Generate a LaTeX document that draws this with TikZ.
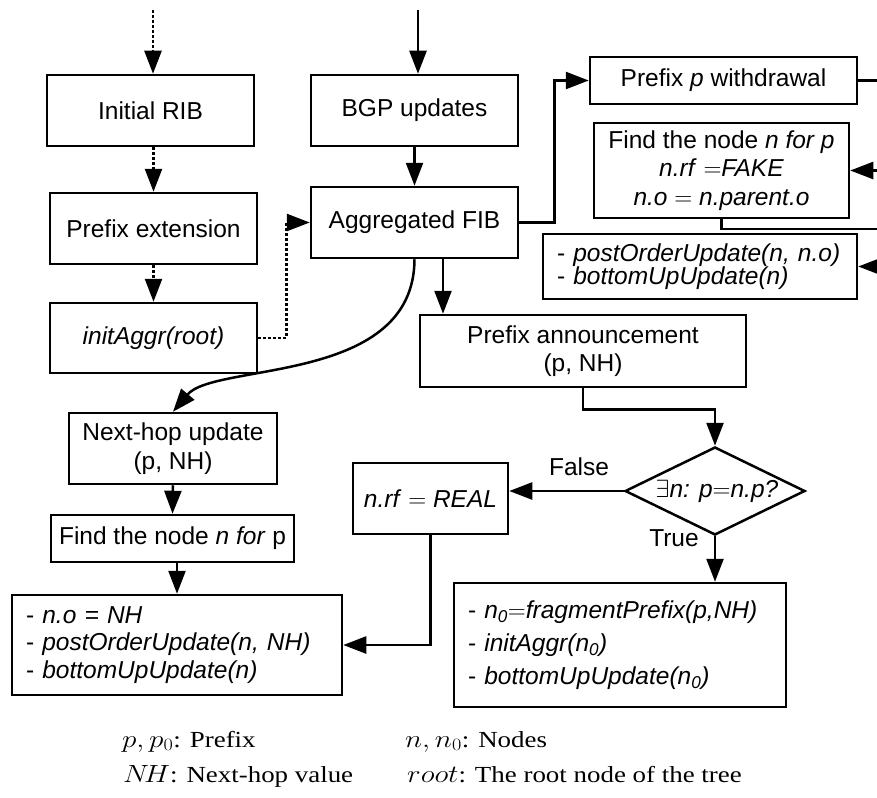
\documentclass[tikz,border=0pt]{standalone}
\usepackage{fontspec}
\setmainfont{Liberation Serif}
\newfontfamily\boxfont{Liberation Sans}
\usetikzlibrary{arrows.meta,shapes.geometric,calc}

\tikzset{
  box/.style={draw, line width=2.5pt, inner sep=0pt, align=center,
    font=\boxfont\fontsize{24.5}{28.5}\selectfont},
  listbox/.style={box, align=left, inner xsep=14pt},
  flow/.style={line width=2.5pt, -{Triangle[length=23pt,width=17pt]}},
  plain/.style={line width=2.5pt},
  dots/.style={flow, dash pattern=on 3pt off 2pt},
  lbl/.style={font=\boxfont\fontsize{24.5}{28.5}\selectfont, inner sep=0pt},
  legend/.style={anchor=base west, inner sep=0pt,
    font=\fontsize{23}{27}\selectfont},
}

\begin{document}
\begin{tikzpicture}[x=1pt, y=-1pt]
\useasboundingbox (0,0) rectangle (877,797);

% left column: initial aggregation
\node[box, minimum width=207pt, minimum height=71pt] (rib) at (150.5,110.5) {Initial RIB};
\node[box, minimum width=207pt, minimum height=71pt] (ext) at (153.5,228.5) {Prefix extension};
\node[box, minimum width=207pt, minimum height=70pt] (init) at (153.5,338) {\itshape initAggr(root)};

% centre column
\node[box, minimum width=207pt, minimum height=71pt] (bgp) at (414.5,110.5) {BGP updates};
\node[box, minimum width=207pt, minimum height=71pt] (fib) at (414.5,222.5) {Aggregated FIB};

% withdrawal branch
\node[box, minimum width=267pt, minimum height=47pt] (wd) at (723.5,80.5) {Prefix \textit{p} withdrawal};
\node[box, minimum width=255pt, minimum height=95pt] (find1) at (721.5,170.5)
  {Find the node \textit{n for p}\\ \textit{n.rf} $=$\textit{FAKE}\\ \textit{n.o} $=$ \textit{n.parent.o}};
\node[listbox, text width=286pt, minimum height=65pt,
  font=\boxfont\fontsize{24.5}{23.3}\selectfont] (upd1) at (700,266.5)
  {- \textit{postOrderUpdate(n, n.o)}\\ - \textit{bottomUpUpdate(n)}};

% announcement branch
\node[box, minimum width=326pt, minimum height=72pt] (ann) at (583,351) {Prefix announcement\\(p, NH)};
\node[draw, line width=2.5pt, diamond, inner sep=0pt, minimum width=180pt, minimum height=88pt,
  font=\boxfont\fontsize{24.5}{28.5}\selectfont] (dec) at (715,491)
  {\makebox[0pt]{\hspace*{4pt}\textit{$\exists$n: p$=$n.p?}}};
\node[box, minimum width=155pt, minimum height=71pt] (real) at (430.5,498.5) {\textit{n.rf} $=$ \textit{REAL}};
\node[listbox, text width=304pt, minimum height=124pt,
  font=\boxfont\fontsize{24.5}{33}\selectfont] (frag) at (620,645)
  {- \textit{n\textsubscript{0}$=$fragmentPrefix(p,NH)}\\
   - \textit{initAggr(n\textsubscript{0})}\\
   - \textit{bottomUpUpdate(n\textsubscript{0})}};

% next-hop update branch
\node[box, minimum width=208pt, minimum height=71pt] (nh) at (173,448.5) {Next-hop update\\(p, NH)};
\node[box, minimum width=243pt, minimum height=47pt] (find2) at (172.5,538.5) {Find the node \textit{n for} p};
\node[listbox, text width=302pt, minimum height=100pt,
  font=\boxfont\fontsize{24.5}{27.5}\selectfont] (upd2) at (177,645)
  {- \textit{n.o = NH}\\ - \textit{postOrderUpdate(n, NH)}\\ - \textit{bottomUpUpdate(n)}};

% branch labels
\node[lbl] (lfalse) at (579,467) {False};
\node[lbl] (ltrue) at (674,538) {True};

% free ends of connectors
\coordinate (topA) at (153,10);
\coordinate (topB) at (418,10);
\coordinate (colA) at (443,0);
\coordinate (edgeA) at (900,80.5);
\coordinate (edgeB) at (900,170.5);
\coordinate (edgeC) at (900,229);
\coordinate (edgeD) at (900,266.5);

% initial aggregation flow (dotted)
\draw[dots] (topA) -- (topA |- rib.north);
\draw[dots] (ext.north |- rib.south) -- (ext.north);
\draw[dots] (ext.south) -- (init.north);
\draw[dots] (init.east) -- ++(28,0) |- (fib.west);

% update flow
\draw[flow] (topB) -- (topB |- bgp.north);
\draw[flow] (bgp.south) -- (fib.north);
\draw[flow] (fib.east) -- ++(35,0) |- (wd.west);
\draw[plain] (wd.east) -- (edgeA);
\draw[flow] (edgeB) -- (find1.east);
\draw[plain] (find1.south) |- (edgeC);
\draw[flow] (edgeD) -- (upd1.east);
\draw[flow] (colA |- fib.south) -- (colA |- ann.north);
\draw[flow] (fib.south) .. controls (414,385) and (215,362) .. (nh.north);
\draw[flow] (ann.south) -- ++(0,21) -| (dec.north);
\draw[flow] (dec.west) -- (dec.west -| real.east);
\draw[flow] (dec.south) -- (dec.south |- frag.north);
\draw[flow] (real.south) |- (upd2.east);
\draw[flow] (nh.south) -- (find2.north);
\draw[flow] (find2.south -| upd2.north) -- (upd2.north);

% legend
\node[legend] (lg1) at (122,747) {\scalebox{1.17}[1]{$p, p_0$: Prefix}};
\node[legend] (lg2) at (405,747) {\scalebox{1.17}[1]{$n, n_0$: Nodes}};
\node[legend] (lg3) at (123,782) {\scalebox{1.17}[1]{$N\!H$: Next-hop value}};
\node[legend] (lg4) at (407,782) {\scalebox{1.17}[1]{$root$: The root node of the tree}};
\end{tikzpicture}
\end{document}
